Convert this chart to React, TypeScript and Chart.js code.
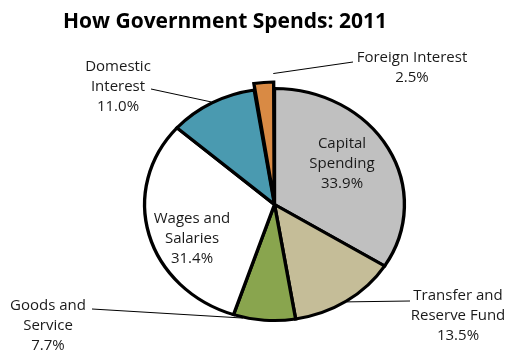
import React, { useEffect, useRef } from "react";
import { Chart, registerables } from "chart.js";

Chart.register(...registerables);

// Spending categories, clockwise from 12 o'clock
const categories = [
  "Capital Spending",
  "Transfer and Reserve Fund",
  "Goods and Service",
  "Wages and Salaries",
  "Domestic Interest",
  "Foreign Interest",
];
const shares = [33.9, 13.5, 7.7, 31.4, 11.0, 2.5];
const labelLines = [
  ["Capital", "Spending"],
  ["Transfer and", "Reserve Fund"],
  ["Goods and", "Service"],
  ["Wages and", "Salaries"],
  ["Domestic", "Interest"],
  ["Foreign Interest"],
];
const sliceColors = ["#C0C0C0", "#C5BD98", "#89A54E", "#FFFFFF", "#4A9AB0", "#D98A44"];
const explode = [0, 0, 0, 0, 0, 14];
const chartTitle = "How Government Spends: 2011";

// Pie is drawn slightly wider than tall
const STRETCH_X = 1.12;
const FONT = "'Open Sans', Lato, sans-serif";

// Label placement: text block centre, first line y, and optional leader line
// (from = point beside the text, at = fraction along the slice where it meets the rim)
const labelLayout = [
  { x: 342, y: 144, lead: null },
  { x: 458, y: 296, lead: { from: [410, 301], at: 0.5 } },
  { x: 48, y: 306, lead: { from: [92, 309], at: 0.84 } },
  { x: 192, y: 219, lead: null },
  { x: 118, y: 67, lead: { from: [151, 89], at: 0.5 } },
  { x: 412, y: 58, lead: { from: [353, 62], at: 1.0 } },
];

const stretchPlugin = {
  id: "stretchPie",
  beforeDatasetsDraw(chart: any) {
    const arc = chart.getDatasetMeta(0).data[0];
    const ctx = chart.ctx;
    ctx.save();
    ctx.translate(arc.x, 0);
    ctx.scale(STRETCH_X, 1);
    ctx.translate(-arc.x, 0);
  },
  afterDatasetsDraw(chart: any) {
    chart.ctx.restore();
  },
};

const labelPlugin = {
  id: "pieLabels",
  afterDraw(chart: any) {
    const ctx = chart.ctx;
    const arcs = chart.getDatasetMeta(0).data;

    ctx.save();
    // title
    ctx.fillStyle = "#000";
    ctx.font = `bold 21px ${FONT}`;
    ctx.textAlign = "center";
    ctx.textBaseline = "middle";
    ctx.fillText(chartTitle, 225, 22);

    ctx.font = `15px ${FONT}`;
    ctx.fillStyle = "#1a1a1a";
    arcs.forEach((arc: any, i: number) => {
      const layout = labelLayout[i];
      const lines = [...labelLines[i], shares[i].toFixed(1) + "%"];
      const lineH = lines.length === 2 ? 19.5 : 20;
      lines.forEach((t, k) => ctx.fillText(t, layout.x, layout.y + k * lineH));

      if (layout.lead) {
        const p = arc.getProps(["x", "y", "startAngle", "endAngle", "outerRadius"], true);
        const off = explode[i];
        const mid = (p.startAngle + p.endAngle) / 2;
        const ang = p.startAngle + (p.endAngle - p.startAngle) * layout.lead.at;
        const cx = p.x + Math.cos(mid) * off * STRETCH_X;
        const cy = p.y + Math.sin(mid) * off;
        const r = p.outerRadius + 1;
        const ex = cx + Math.cos(ang) * r * STRETCH_X;
        const ey = cy + Math.sin(ang) * r;
        ctx.beginPath();
        ctx.strokeStyle = "#000";
        ctx.lineWidth = 1;
        ctx.moveTo(layout.lead.from[0], layout.lead.from[1]);
        ctx.lineTo(ex, ey);
        ctx.stroke();
      }
    });
    ctx.restore();
  },
};

export default function App() {
  const canvasRef = useRef<HTMLCanvasElement>(null);

  useEffect(() => {
    const chart = new Chart(canvasRef.current!, {
      type: "pie",
      data: {
        labels: categories,
        datasets: [
          {
            data: shares,
            backgroundColor: sliceColors,
            borderColor: "#000",
            borderWidth: 3,
            borderJoinStyle: "miter",
            offset: explode,
          } as any,
        ],
      },
      options: {
        responsive: false,
        animation: false,
        events: [],
        radius: 116,
        layout: { padding: { left: 40, right: 0, top: 59, bottom: 0 } },
        plugins: {
          legend: { display: false },
          tooltip: { enabled: false },
          title: { display: false },
        },
      } as any,
      plugins: [stretchPlugin, labelPlugin],
    });
    return () => chart.destroy();
  }, []);

  return (
    <div style={{ position: "fixed", left: 0, top: 0, width: 509, height: 350, background: "#fff" }}>
      <canvas ref={canvasRef} width={509} height={350} />
    </div>
  );
}
